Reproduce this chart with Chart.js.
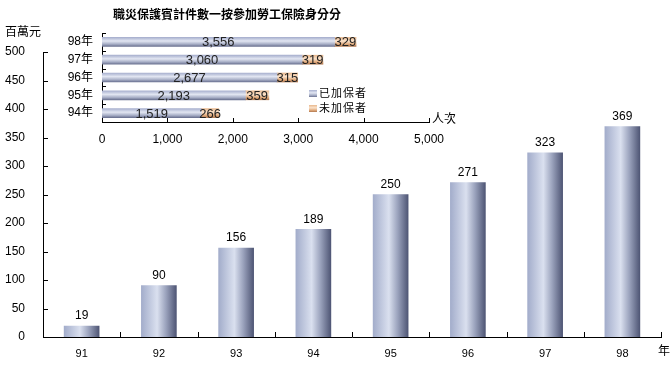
<!DOCTYPE html>
<html>
<head>
<meta charset="utf-8">
<script src="https://cdn.jsdelivr.net/npm/chart.js@4.4.0/dist/chart.umd.min.js"></script>
<style>
  html, body { margin: 0; padding: 0; background: #fff; }
  #wrap { position: relative; width: 671px; height: 372px; }
  #wrap canvas { position: absolute; left: 0; top: 0; }
</style>
</head>
<body>
<div id="wrap">
  <canvas id="mainChart" width="671" height="372"></canvas>
  <canvas id="insetChart" width="671" height="372"></canvas>
</div>
<script>
// main chart: amounts per year (百萬元)
const years = ["91", "92", "93", "94", "95", "96", "97", "98"];
const amounts = [19, 90, 156, 189, 250, 271, 323, 369];

// inset chart: cases by insurance status
const insetYears = ["98年", "97年", "96年", "95年", "94年"];
const insured = [3556, 3060, 2677, 2193, 1519];
const uninsured = [329, 319, 315, 359, 266];

const FONT = "'Liberation Sans', Arial, 'Noto Sans CJK TC', sans-serif";
Chart.defaults.font.family = FONT;
Chart.defaults.color = "#000";

function fmt(v) {
  return Number(v).toLocaleString("en-US");
}

function mainBarFill(ctx) {
  const chart = ctx.chart;
  if (!chart.chartArea) return "#a8b2cf";
  const x = chart.scales.x.getPixelForValue(ctx.dataIndex);
  const g = chart.ctx.createLinearGradient(x - 17.5, 0, x + 17.5, 0);
  g.addColorStop(0, "#a3adcb");
  g.addColorStop(0.45, "#dae0ef");
  g.addColorStop(0.7, "#9ba3bd");
  g.addColorStop(1, "#4f5675");
  return g;
}

function vertGrad(c, y, stops) {
  const g = c.createLinearGradient(0, y - 4.5, 0, y + 4.5);
  stops.forEach((s) => g.addColorStop(s[0], s[1]));
  return g;
}

const blueStops = [[0, "#a9b1cf"], [0.4, "#e2e6f2"], [0.75, "#a7aec6"], [1, "#6c7392"]];
const orangeStops = [[0, "#e8b88e"], [0.4, "#fbe3cc"], [0.75, "#e0aa7c"], [1, "#b07850"]];

function insuredFill(ctx) {
  const chart = ctx.chart;
  if (!chart.chartArea) return "#b8c0da";
  return vertGrad(chart.ctx, chart.scales.y.getPixelForValue(ctx.dataIndex), blueStops);
}

function uninsuredFill(ctx) {
  const chart = ctx.chart;
  if (!chart.chartArea) return "#f0c8a0";
  return vertGrad(chart.ctx, chart.scales.y.getPixelForValue(ctx.dataIndex), orangeStops);
}

// inward tick marks, value labels and axis titles for the main chart
const mainDecor = {
  id: "mainDecor",
  afterDraw(chart) {
    const c = chart.ctx;
    const xs = chart.scales.x;
    const ys = chart.scales.y;
    const area = chart.chartArea;
    c.save();
    c.strokeStyle = "#000";
    c.lineWidth = 1;
    c.beginPath();
    ys.ticks.forEach((t) => {
      if (t.value === 0) return;
      const py = Math.round(ys.getPixelForValue(t.value)) + 0.5;
      c.moveTo(area.left, py);
      c.lineTo(area.left + 5, py);
    });
    for (let i = 1; i <= years.length; i++) {
      const px = Math.round(xs.getPixelForValue(i - 0.5)) + 0.5;
      c.moveTo(px, area.bottom);
      c.lineTo(px, area.bottom - 5);
    }
    c.stroke();

    c.fillStyle = "#000";
    c.font = "12px " + FONT;
    c.textAlign = "center";
    c.textBaseline = "bottom";
    chart.getDatasetMeta(0).data.forEach((el, i) => {
      c.fillText(String(amounts[i]), el.x, el.y - 4);
    });

    c.textAlign = "left";
    c.textBaseline = "middle";
    c.fillText("百萬元", 5, 33);
    c.fillText("年", 658, 352);
    c.restore();
  },
};

// inset chart: tick marks, segment labels, legend, title
const insetDecor = {
  id: "insetDecor",
  afterDraw(chart) {
    const c = chart.ctx;
    const xs = chart.scales.x;
    const ys = chart.scales.y;
    const area = chart.chartArea;
    c.save();
    c.strokeStyle = "#000";
    c.lineWidth = 1;
    c.beginPath();
    for (let i = 0; i < insetYears.length; i++) {
      const py = Math.round(ys.getPixelForValue(i - 0.5)) + 0.5;
      c.moveTo(area.left, py);
      c.lineTo(area.left + 4, py);
    }
    xs.ticks.forEach((t) => {
      if (t.value === 0) return;
      const px = Math.round(xs.getPixelForValue(t.value)) + 0.5;
      c.moveTo(px, area.bottom);
      c.lineTo(px, area.bottom - 4);
    });
    c.stroke();

    c.fillStyle = "#222";
    c.font = "13px " + FONT;
    c.textAlign = "center";
    c.textBaseline = "middle";
    chart.data.datasets.forEach((ds, di) => {
      chart.getDatasetMeta(di).data.forEach((el, i) => {
        c.fillText(fmt(ds.data[i]), (el.x + el.base) / 2, el.y + 1);
      });
    });

    // legend
    const legendStops = [blueStops, orangeStops];
    c.font = "11px " + FONT;
    c.textAlign = "left";
    c.fillStyle = "#000";
    chart.data.datasets.forEach((ds, di) => {
      const top = 90 + di * 15;
      const g = c.createLinearGradient(0, top, 0, top + 7);
      legendStops[di].forEach((s) => g.addColorStop(s[0], s[1]));
      c.fillStyle = g;
      c.fillRect(309, top, 8, 7);
      c.fillStyle = "#000";
      c.letterSpacing = "1px";
      c.fillText(ds.label, 319, top + 4);
    });
    c.letterSpacing = "0px";

    c.font = "bold 12px " + FONT;
    c.textAlign = "center";
    c.fillText("職災保護賓計件數一按參加勞工保險身分分", 227, 16);

    c.font = "12px " + FONT;
    c.textAlign = "left";
    c.fillText("人次", 432, 120);
    c.restore();
  },
};

new Chart(document.getElementById("mainChart"), {
  type: "bar",
  data: {
    labels: years,
    datasets: [
      {
        data: amounts,
        backgroundColor: mainBarFill,
        barThickness: 35,
      },
    ],
  },
  options: {
    responsive: false,
    animation: false,
    devicePixelRatio: 1,
    layout: { padding: { top: 52, right: 10, left: 0, bottom: 0 } },
    plugins: {
      legend: { display: false },
      tooltip: { enabled: false },
    },
    scales: {
      x: {
        grid: { display: false, drawTicks: false, offset: true },
        border: { color: "#000", width: 1 },
        ticks: { color: "#000", font: { size: 11 }, padding: 10, maxRotation: 0 },
        afterFit(s) {
          s.height = 35;
        },
      },
      y: {
        min: 0,
        max: 500,
        ticks: { stepSize: 50, color: "#000", font: { size: 12 }, padding: 18 },
        grid: { display: false, drawTicks: false },
        border: { color: "#000", width: 1 },
        afterFit(s) {
          s.width = 43;
        },
      },
    },
  },
  plugins: [mainDecor],
});

new Chart(document.getElementById("insetChart"), {
  type: "bar",
  data: {
    labels: insetYears,
    datasets: [
      { label: "已加保者", data: insured, backgroundColor: insuredFill, barThickness: 9 },
      { label: "未加保者", data: uninsured, backgroundColor: uninsuredFill, barThickness: 9 },
    ],
  },
  options: {
    indexAxis: "y",
    responsive: false,
    animation: false,
    devicePixelRatio: 1,
    layout: { padding: { top: 33, right: 242, left: 0, bottom: 0 } },
    plugins: {
      legend: { display: false },
      tooltip: { enabled: false },
    },
    scales: {
      x: {
        stacked: true,
        min: 0,
        max: 5000,
        ticks: { stepSize: 1000, color: "#000", font: { size: 12 }, padding: 10, callback: (v) => fmt(v) },
        grid: { display: false, drawTicks: false },
        border: { color: "#000", width: 1 },
        afterFit(s) {
          s.height = 250;
        },
      },
      y: {
        stacked: true,
        ticks: { color: "#000", font: { size: 12 }, padding: 9 },
        grid: { display: false, drawTicks: false },
        border: { color: "#000", width: 1 },
        afterFit(s) {
          s.width = 102;
        },
      },
    },
  },
  plugins: [insetDecor],
});
</script>
</body>
</html>
